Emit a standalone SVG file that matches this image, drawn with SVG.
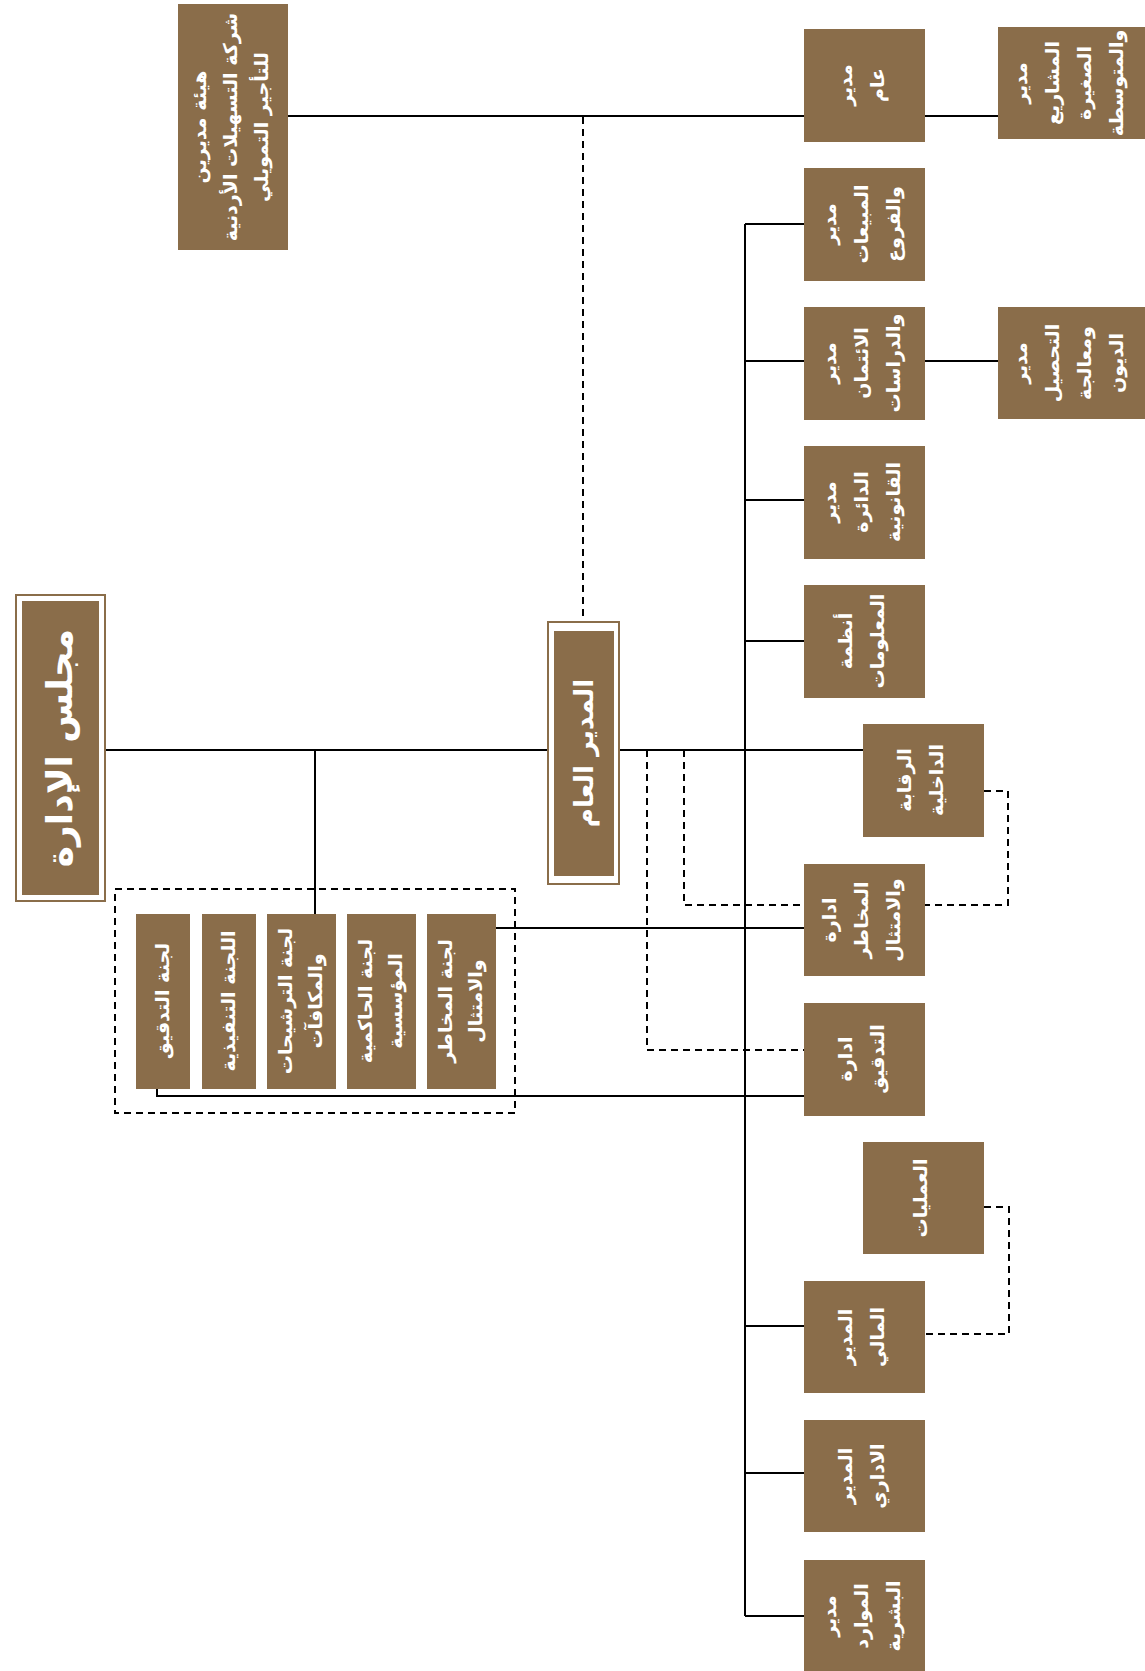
<svg xmlns="http://www.w3.org/2000/svg" width="1145" height="1671" viewBox="0 0 1145 1671">
<style>
.b{fill:#8a6d4a}
.fr{fill:#ffffff;stroke:#8a6d4a;stroke-width:2}
.t{font-family:"DejaVu Sans","Liberation Sans",sans-serif;font-weight:bold;fill:#ffffff;text-anchor:middle;font-size:19px}
.s{fill:none;stroke:#000000;stroke-width:2}
.d{fill:none;stroke:#000000;stroke-width:2;stroke-dasharray:7 5}
</style>
<rect width="1145" height="1671" fill="#ffffff"/>
<g id="connectors">
<path class="s" d="M105,750 H548 M620,750 H863 M315,750 V914 M288,116 H804 M925,116 H998 M925,361 H998"/>
<path class="s" d="M745,224 V1616 M745,224 H804 M745,361 H804 M745,500 H804 M745,641 H804 M745,1326 H804 M745,1473 H804 M745,1616 H804"/>
<path class="s" d="M496,928 H804 M157,1089 V1096 H804"/>
<path class="d" d="M583,117 V622 M647,750 V1050 H804 M684,750 V905 H804 M984,791 H1008 V905 H925 M984,1207 H1009 V1334 H925"/>
<rect class="d" x="115" y="889" width="400" height="224"/>
</g>
<g id="board">
<rect class="fr" x="16" y="595" width="89" height="306"/>
<rect class="b" x="22" y="601" width="77" height="294"/>
<text class="t" style="font-size:36px" transform="translate(60,748) rotate(-90)" y="12">مجلس الإدارة</text>
</g>
<g id="gm">
<rect class="fr" x="548" y="622" width="71" height="262"/>
<rect class="b" x="554" y="631" width="60" height="245"/>
<text class="t" style="font-size:26px" transform="translate(584,753) rotate(-90)" y="9">المدير العام</text>
</g>
<g id="parent-board">
<rect class="b" x="178" y="4" width="110" height="246"/>
<text class="t" transform="translate(231,127) rotate(-90)"><tspan x="0" y="-25">هيئة مديرين</tspan><tspan x="0" y="6">شركة التسهيلات الأردنية</tspan><tspan x="0" y="37">للتأجير التمويلي</tspan></text>
</g>
<g id="general-manager">
<rect class="b" x="804" y="29" width="121" height="113"/>
<text class="t" transform="translate(862,85) rotate(-90)"><tspan x="0" y="-10">مدير</tspan><tspan x="0" y="22">عام</tspan></text>
</g>
<g id="sme">
<rect class="b" x="998" y="27" width="147" height="112"/>
<text class="t" transform="translate(1069,83) rotate(-90)"><tspan x="0" y="-42">مدير</tspan><tspan x="0" y="-10">المشاريع</tspan><tspan x="0" y="22">الصغيرة</tspan><tspan x="0" y="54">والمتوسطة</tspan></text>
</g>
<g id="sales">
<rect class="b" x="804" y="168" width="121" height="113"/>
<text class="t" transform="translate(862,224) rotate(-90)"><tspan x="0" y="-26">مدير</tspan><tspan x="0" y="6">المبيعات</tspan><tspan x="0" y="38">والفروع</tspan></text>
</g>
<g id="credit">
<rect class="b" x="804" y="307" width="121" height="113"/>
<text class="t" transform="translate(862,363) rotate(-90)"><tspan x="0" y="-26">مدير</tspan><tspan x="0" y="6">الائتمان</tspan><tspan x="0" y="38">والدراسات</tspan></text>
</g>
<g id="collection">
<rect class="b" x="998" y="307" width="147" height="112"/>
<text class="t" transform="translate(1069,363) rotate(-90)"><tspan x="0" y="-42">مدير</tspan><tspan x="0" y="-10">التحصيل</tspan><tspan x="0" y="22">ومعالجة</tspan><tspan x="0" y="54">الديون</tspan></text>
</g>
<g id="legal">
<rect class="b" x="804" y="446" width="121" height="113"/>
<text class="t" transform="translate(862,502) rotate(-90)"><tspan x="0" y="-26">مدير</tspan><tspan x="0" y="6">الدائرة</tspan><tspan x="0" y="38">القانونية</tspan></text>
</g>
<g id="it">
<rect class="b" x="804" y="585" width="121" height="113"/>
<text class="t" transform="translate(862,641) rotate(-90)"><tspan x="0" y="-10">أنظمة</tspan><tspan x="0" y="22">المعلومات</tspan></text>
</g>
<g id="internal-control">
<rect class="b" x="863" y="724" width="121" height="113"/>
<text class="t" transform="translate(921,780) rotate(-90)"><tspan x="0" y="-10">الرقابة</tspan><tspan x="0" y="22">الداخلية</tspan></text>
</g>
<g id="risk">
<rect class="b" x="804" y="864" width="121" height="112"/>
<text class="t" transform="translate(862,920) rotate(-90)"><tspan x="0" y="-26">ادارة</tspan><tspan x="0" y="6">المخاطر</tspan><tspan x="0" y="38">والامتثال</tspan></text>
</g>
<g id="audit">
<rect class="b" x="804" y="1003" width="121" height="113"/>
<text class="t" transform="translate(862,1059) rotate(-90)"><tspan x="0" y="-10">ادارة</tspan><tspan x="0" y="22">التدقيق</tspan></text>
</g>
<g id="operations">
<rect class="b" x="863" y="1142" width="121" height="112"/>
<text class="t" transform="translate(921,1198) rotate(-90)"><tspan x="0" y="6">العمليات</tspan></text>
</g>
<g id="finance">
<rect class="b" x="804" y="1281" width="121" height="112"/>
<text class="t" transform="translate(862,1337) rotate(-90)"><tspan x="0" y="-10">المدير</tspan><tspan x="0" y="22">المالي</tspan></text>
</g>
<g id="admin">
<rect class="b" x="804" y="1420" width="121" height="112"/>
<text class="t" transform="translate(862,1476) rotate(-90)"><tspan x="0" y="-10">المدير</tspan><tspan x="0" y="22">الاداري</tspan></text>
</g>
<g id="hr">
<rect class="b" x="804" y="1560" width="121" height="111"/>
<text class="t" transform="translate(862,1616) rotate(-90)"><tspan x="0" y="-26">مدير</tspan><tspan x="0" y="6">الموارد</tspan><tspan x="0" y="38">البشرية</tspan></text>
</g>
<g id="committees">
<g id="c-audit"><rect class="b" x="136" y="914" width="54" height="175"/>
<text class="t" transform="translate(163,1001) rotate(-90)" y="6">لجنة التدقيق</text></g>
<g id="c-exec"><rect class="b" x="202" y="914" width="54" height="175"/>
<text class="t" transform="translate(229,1001) rotate(-90)" y="6">اللجنة التنفيذية</text></g>
<g id="c-nom"><rect class="b" x="267" y="914" width="69" height="175"/>
<text class="t" transform="translate(301,1001) rotate(-90)"><tspan x="0" y="-9">لجنة الترشيحات</tspan><tspan x="0" y="21">والمكافآت</tspan></text></g>
<g id="c-gov"><rect class="b" x="347" y="914" width="69" height="175"/>
<text class="t" transform="translate(381,1001) rotate(-90)"><tspan x="0" y="-9">لجنة الحاكمية</tspan><tspan x="0" y="21">المؤسسية</tspan></text></g>
<g id="c-risk"><rect class="b" x="427" y="914" width="69" height="175"/>
<text class="t" transform="translate(461,1001) rotate(-90)"><tspan x="0" y="-9">لجنة المخاطر</tspan><tspan x="0" y="21">والامتثال</tspan></text></g>
</g>
</svg>
